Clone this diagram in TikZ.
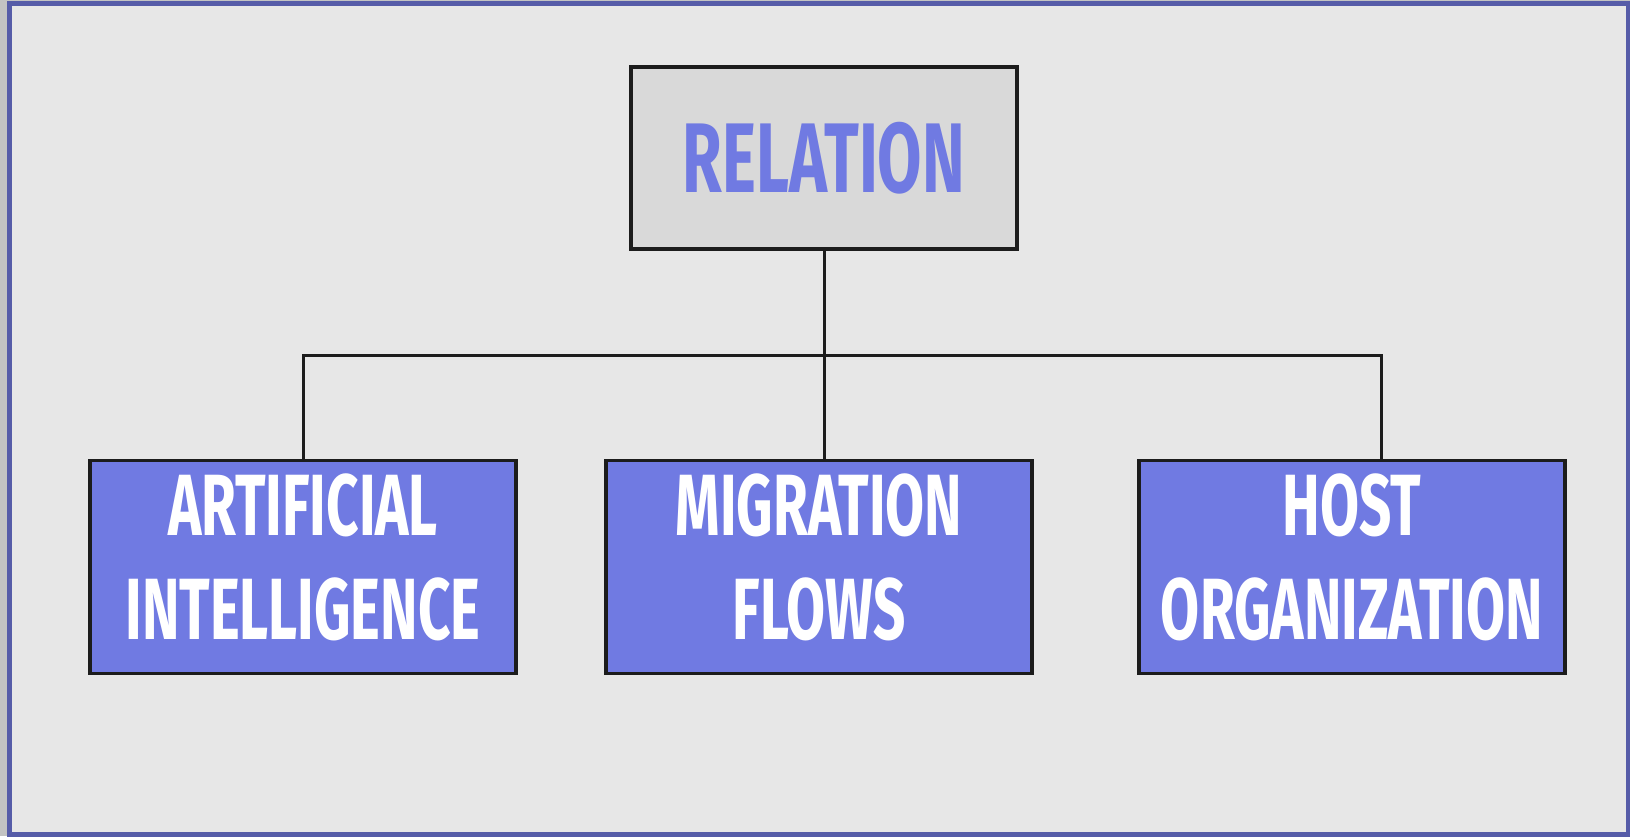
\documentclass[tikz,border=0pt]{standalone}
\usepackage{fontspec}
\newfontfamily\bebas{Fira Sans}[FakeStretch=0.65]
\definecolor{relblue}{RGB}{112,122,226}
\definecolor{topfill}{RGB}{217,217,217}
\definecolor{bggray}{RGB}{231,231,231}
\definecolor{linegray}{RGB}{28,28,28}
\definecolor{frameblue}{RGB}{86,92,168}
\definecolor{outgray}{RGB}{195,195,195}
\tikzset{
	topbox/.style={draw=linegray,line width=3.5pt,fill=topfill,minimum width=386pt,minimum height=182pt,inner sep=0pt,text=relblue,font=\bebas\bfseries\fontsize{99}{104}\selectfont},
	leafbox/.style={draw=linegray,line width=3.5pt,fill=relblue,minimum width=426pt,minimum height=213pt,inner sep=0pt,align=center,text=white,text depth=20pt,font=\bebas\bfseries\fontsize{87}{104}\selectfont},
	link/.style={draw=linegray,line width=3pt}
}
\begin{document}
\begin{tikzpicture}[x=1pt,y=-1pt]
		\useasboundingbox (0,0) rectangle (1630,836);
		\fill[outgray] (0,0) rectangle (1630,836);
		\draw[frameblue,line width=5pt,fill=bggray] (9,3.5) rectangle (1628,834);
		\node(rel) at(824,158)[topbox]{RELATION};
		\node(ai) at(303,567)[leafbox]{ARTIFICIAL\\INTELLIGENCE};
		\node(mf) at(819,567)[leafbox]{MIGRATION\\FLOWS};
		\node(ho) at(1352,567)[leafbox]{HOST\\ORGANIZATION};
		\coordinate(fork) at(824,355);
		\coordinate(hj) at(1381,355);
		\draw[link] (rel) -- (fork) -- (fork|-mf.north);
		\draw[link] (ai.north) |- (hj) -- (hj|-ho.north);
	\end{tikzpicture}
\end{document}
